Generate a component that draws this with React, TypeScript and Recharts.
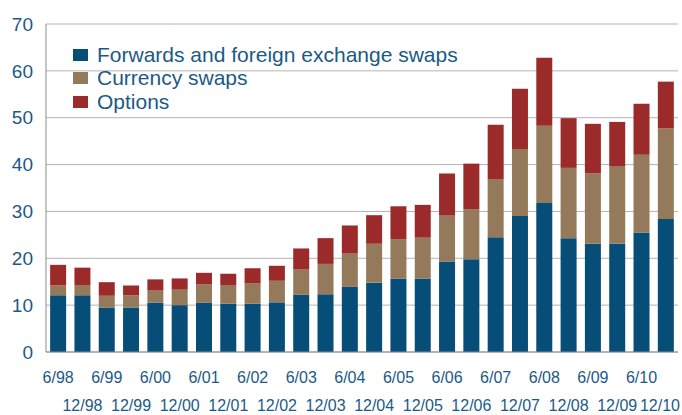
import * as React from 'react';
import { BarChart, CartesianGrid, XAxis, YAxis, Legend, Bar } from 'recharts';

const periods = [
    '6/98', '12/98', '6/99', '12/99', '6/00', '12/00', '6/01', '12/01', '6/02', '12/02',
    '6/03', '12/03', '6/04', '12/04', '6/05', '12/05', '6/06', '12/06', '6/07', '12/07',
    '6/08', '12/08', '6/09', '12/09', '6/10', '12/10'
];

// USD trillions
const forwards = [
    12.1, 12.1, 9.5, 9.5, 10.5, 10.0, 10.5, 10.3, 10.3, 10.6,
    12.2, 12.3, 13.9, 14.8, 15.7, 15.7, 19.3, 19.8, 24.5, 29.0,
    31.8, 24.3, 23.1, 23.1, 25.5, 28.4
];
const currencySwaps = [
    2.1, 2.2, 2.5, 2.6, 2.6, 3.3, 3.9, 4.0, 4.3, 4.6,
    5.4, 6.5, 7.1, 8.3, 8.4, 8.7, 9.8, 10.7, 12.4, 14.3,
    16.5, 15.0, 15.0, 16.6, 16.6, 19.3
];
const options = [
    4.4, 3.7, 2.9, 2.1, 2.4, 2.4, 2.5, 2.4, 3.3, 3.2,
    4.5, 5.5, 6.0, 6.1, 7.0, 7.0, 9.0, 9.7, 11.6, 12.9,
    14.5, 10.6, 10.6, 9.4, 10.9, 10.0
];
const yTicks = [0, 10, 20, 30, 40, 50, 60, 70];

const data = periods.map((p, i) => ({
    period: p,
    forwards: forwards[i],
    currencySwaps: currencySwaps[i],
    options: options[i]
}));

const textColor = '#1b5a86';
const series = [
    { key: 'forwards', name: 'Forwards and foreign exchange swaps', color: '#064d78' },
    { key: 'currencySwaps', name: 'Currency swaps', color: '#947a5b' },
    { key: 'options', name: 'Options', color: '#9b2a2a' }
];

// 6/xx on the upper row, 12/xx on the lower one; last label kept inside the frame
const PeriodTick = (props: any) => {
    const { x, payload } = props;
    const lower = payload.index % 2 === 1;
    const last = payload.index === periods.length - 1;
    return (
        <text
            x={last ? 680 : x}
            y={lower ? 411 : 383}
            textAnchor={last ? 'end' : 'middle'}
            fill={textColor}
            fontSize={16}
        >
            {payload.value}
        </text>
    );
};

const LegendBox = () => (
    <div>
        {series.map(s => (
            <div key={s.key} style={{ display: 'flex', alignItems: 'center', height: 23.5 }}>
                <span style={{ width: 15, height: 12, background: s.color, marginRight: 9, flexShrink: 0 }} />
                <span style={{ color: textColor, fontSize: 21, whiteSpace: 'nowrap' }}>{s.name}</span>
            </div>
        ))}
    </div>
);

const App = () => {
    return (
        <div style={{ fontFamily: '"Liberation Sans", Arial, sans-serif' }}>
            <style>{'body{margin:0}'}</style>
            <BarChart
                width={682}
                height={415}
                data={data}
                barCategoryGap="17%"
                margin={{ top: 24, right: 4, left: 0, bottom: 0 }}
            >
                <CartesianGrid vertical={false} stroke="#b4b4b4" />
                <XAxis
                    dataKey="period"
                    interval={0}
                    height={63}
                    tickLine={false}
                    stroke="#8c8c8c"
                    tick={<PeriodTick />}
                />
                <YAxis
                    width={46}
                    domain={[0, 70]}
                    ticks={yTicks}
                    tickLine={false}
                    tickSize={0}
                    tickMargin={13}
                    stroke="#8c8c8c"
                    tick={{ fill: textColor, fontSize: 19 }}
                />
                <Legend
                    layout="vertical"
                    verticalAlign="middle"
                    align="center"
                    content={<LegendBox />}
                    wrapperStyle={{ left: 73, top: 43, width: 420 }}
                />
                {series.map(s => (
                    <Bar
                        key={s.key}
                        dataKey={s.key}
                        name={s.name}
                        stackId="a"
                        fill={s.color}
                        isAnimationActive={false}
                    />
                ))}
            </BarChart>
        </div>
    );
};

export default App;
